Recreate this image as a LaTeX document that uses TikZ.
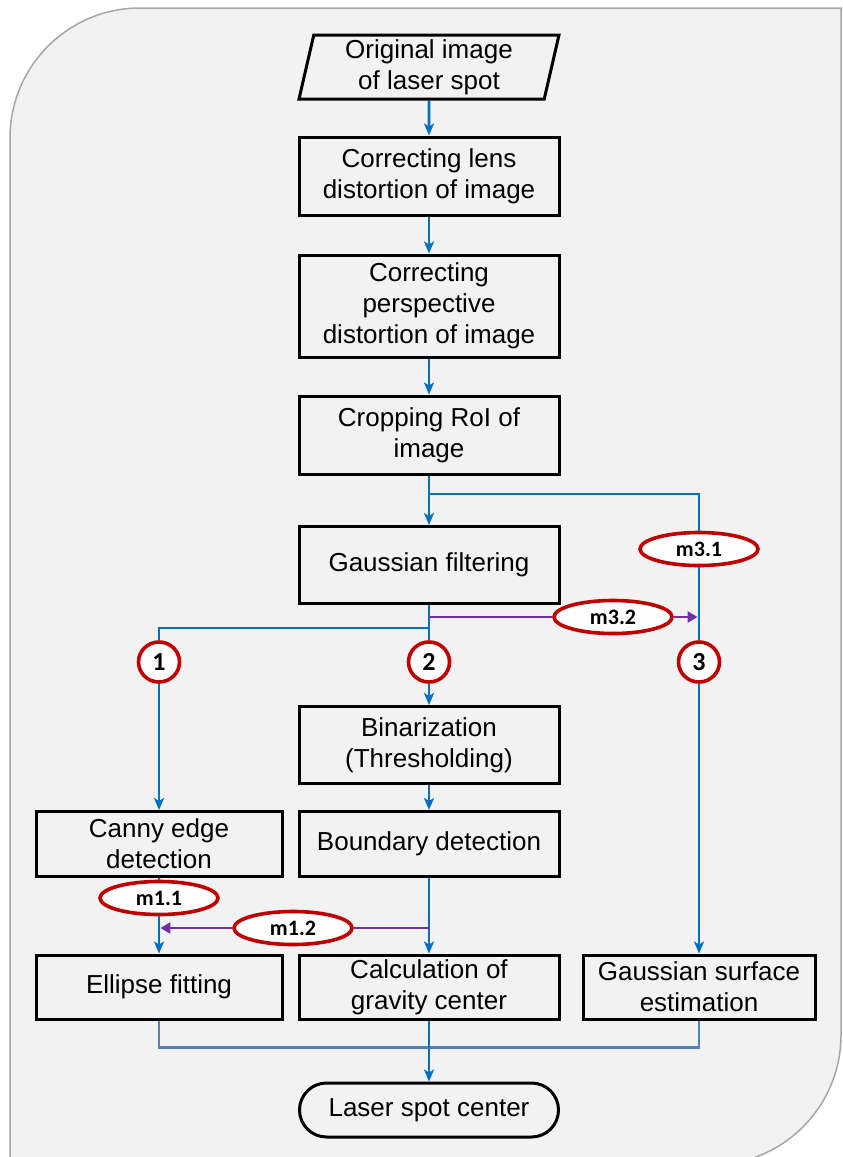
\documentclass[tikz,border=0pt]{standalone}
\usepackage{fontspec}
\setmainfont{Liberation Sans}
\newfontfamily\tagfamily{Carlito}
\usetikzlibrary{arrows.meta,positioning,calc,shapes.geometric,shapes.misc}
\definecolor{flowblue}{HTML}{0070C0}
\definecolor{joinblue}{HTML}{4F81BD}
\definecolor{methpurple}{HTML}{7030A0}
\definecolor{tagred}{HTML}{C00000}
\definecolor{panelgray}{HTML}{F2F2F2}
\definecolor{panelline}{HTML}{A6A6A6}
\newcommand{\boxfont}{\fontsize{26}{31}\selectfont}
\newcommand{\tagfont}{\tagfamily\bfseries\fontsize{22}{24}\selectfont}
\newcommand{\numfont}{\tagfamily\bfseries\fontsize{26}{28}\selectfont}
\tikzset{
  procbox/.style={draw=black, line width=3pt, fill=panelgray, align=center, font=\boxfont, inner sep=2pt, minimum width=260pt},
  inbox/.style={procbox, trapezium, trapezium left angle=76, trapezium right angle=104, trapezium stretches body, minimum height=64pt},
  endbox/.style={procbox, rounded rectangle, minimum height=54pt, minimum width=263pt},
  flowline/.style={line width=2.7pt, draw=flowblue},
  flowarr/.style={flowline, -{Stealth[length=12pt, width=10pt, inset=3pt]}},
  joinline/.style={line width=2.7pt, draw=joinblue},
  methodline/.style={line width=2.2pt, draw=methpurple},
  methodarr/.style={methodline, -{Triangle[length=10pt, width=11pt]}},
  methodtag/.style={ellipse, draw=tagred, line width=3.6pt, fill=white, minimum width=118pt, minimum height=33pt, inner sep=0pt, font=\tagfont},
  branchtag/.style={ellipse, draw=tagred, line width=3.6pt, fill=white, minimum width=41pt, minimum height=40pt, inner sep=0pt, font=\numfont},
}
\begin{document}
\begin{tikzpicture}[x=1pt, y=-1pt]
  \useasboundingbox (0,0) rectangle (843,1157);
  % panel behind the chart
  \fill[white] (0,0) rectangle (843,1157);
  \draw[panelline, fill=panelgray, line width=1.5pt] (10,1175) -- (10,138)
    arc[start angle=180, end angle=270, radius=130] -- (841,8) -- (841,1035)
    arc[start angle=0, end angle=90, radius=130] -- (10,1175);

  % main column
  \node[inbox] (orig) at (429,67) {Original image\\of laser spot};
  \node[procbox, minimum height=78pt] (lens) at (429,176) {Correcting lens\\distortion of image};
  \node[procbox, minimum height=102pt] (persp) at (429,306) {Correcting\\perspective\\distortion of image};
  \node[procbox, minimum height=78pt] (crop) at (429,435) {Cropping RoI of\\image};
  \node[procbox, minimum height=77pt] (gfilt) at (429,565) {Gaussian filtering};
  \node[procbox, minimum height=77pt] (binar) at (429,745) {Binarization\\(Thresholding)};
  \node[procbox, minimum height=65pt] (bound) at (429,844) {Boundary detection};
  \node[procbox, minimum width=246pt, minimum height=65pt] (canny) at (159,844) {Canny edge\\detection};
  \node[procbox, minimum width=246pt, minimum height=64pt] (efit) at (159,987) {Ellipse fitting};
  \node[procbox, minimum height=64pt] (grav) at (429,987) {Calculation of\\gravity center};
  \node[procbox, minimum width=232pt, minimum height=64pt] (gsurf) at (699,987) {Gaussian surface\\estimation};
  \node[endbox] (spot) at (429,1110) {Laser spot center};

  % junctions
  \coordinate (splitc) at (429,494);
  \coordinate (splitp) at (429,617);
  \coordinate (splitl) at (429,628);
  \coordinate (splitb) at (429,928);

  % branches and tags
  \node[branchtag] (b1) at (159,662) {1};
  \node[branchtag] (b2) at (429,662) {2};
  \node[branchtag] (b3) at (699,662) {3};
  \node[methodtag] (m31) at (699,549) {m3.1};
  \node[methodtag] (m32) at (613,617) {m3.2};
  \node[methodtag] (m11) at (159,898) {m1.1};
  \node[methodtag] (m12) at (293,928) {m1.2};

  \draw[flowarr] (orig) -- (lens);
  \draw[flowarr] (lens) -- (persp);
  \draw[flowarr] (persp) -- (crop);
  \draw[flowarr] (crop) -- (gfilt);
  \draw[flowline] (splitc) -| (m31.north);
  \draw[flowline] (m31) -- (b3);
  \draw[flowarr] (b3) -- (gsurf);
  \draw[flowline] (gfilt) -- (b2);
  \draw[flowarr] (b2) -- (binar);
  \draw[methodline] (splitp) -- (m32);
  \draw[methodarr, shorten >=1.4pt] (m32) -- (b3 |- m32);
  \draw[flowline] (splitl) -| (b1.north);
  \draw[flowarr] (b1) -- (canny);
  \draw[flowarr] (binar) -- (bound);
  \draw[flowline] (canny) -- (m11);
  \draw[flowarr] (m11) -- (efit);
  \draw[flowarr] (bound) -- (grav);
  \draw[methodline] (splitb) -- (m12);
  \draw[methodarr, shorten >=1.4pt] (m12) -- (m11 |- m12);
  \draw[joinline] (efit.south) -- ++(0,27) -| (gsurf.south);
  \draw[flowarr] (grav) -- (spot);
\end{tikzpicture}
\end{document}
